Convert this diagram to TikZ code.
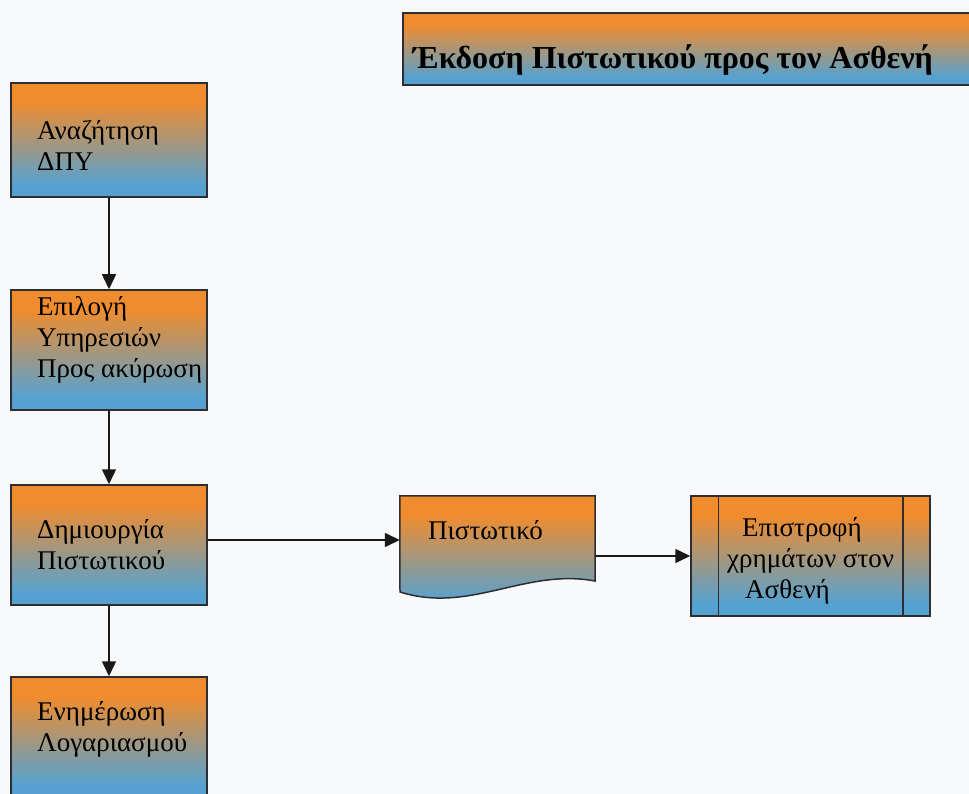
\documentclass[tikz,border=0pt]{standalone}
\usepackage{fontspec}
\setmainfont{Liberation Serif}
\usetikzlibrary{arrows.meta}

\definecolor{gbOrange}{RGB}{240,140,45}
\definecolor{gbBlue}{RGB}{85,162,210}
\definecolor{gbEdge}{RGB}{45,45,50}
\definecolor{gbPaper}{RGB}{248,249,251}

% orange on top, blue at the bottom, blended through the middle third
\pgfdeclareverticalshading{obgrad}{100bp}{%
  color(0bp)=(gbBlue); color(30bp)=(gbBlue);
  color(67bp)=(gbOrange); color(100bp)=(gbOrange)}

\tikzset{
  gbox/.style={draw=gbEdge, line width=1.5pt, shading=obgrad,
    minimum width=196pt, inner sep=0pt},
  label txt/.style={inner sep=0pt, align=left,
    font=\fontsize{27}{31}\selectfont},
  flow/.style={draw=black!90, line width=1.5pt,
    -{Triangle[length=15pt,width=14pt]}},
}

\begin{document}
\begin{tikzpicture}[x=1pt,y=-1pt]
\useasboundingbox[fill=gbPaper] (0,0) rectangle (969,794);

% heading bar
\node[gbox, minimum width=577pt, minimum height=72pt] (title) at (691.5,49) {};
\node[inner sep=0pt, anchor=west, font=\fontsize{32}{36}\selectfont\bfseries]
  (titletxt) at (413,60) {Έκδοση Πιστωτικού προς τον Ασθενή};

% main column of steps
\node[gbox, minimum height=114pt] (b1) at (109,140) {};
\node[label txt, anchor=west] (t1) at (37,145) {Αναζήτηση\\ΔΠΥ};

\node[gbox, minimum height=120pt] (b2) at (109,350) {};
\node[label txt, anchor=west] (t2) at (37,340) {Επιλογή\\Υπηρεσιών\\Προς ακύρωση};

\node[gbox, minimum height=120pt] (b3) at (109,545) {};
\node[label txt, anchor=west] (t3) at (37,545) {Δημιουργία\\Πιστωτικού};

\node[gbox, minimum height=120pt] (b4) at (109,737) {};
\node[label txt, anchor=west] (t4) at (37,729) {Ενημέρωση\\Λογαριασμού};

% document symbol with wavy lower edge
\node[minimum width=195pt, minimum height=88pt, inner sep=0pt] (doc) at (497.5,540) {};
\path[draw=gbEdge, line width=1.5pt, shading=obgrad]
  (doc.north west) -- (doc.north east) -- (595,581)
  .. controls (525,568) and (470,614) .. (400,592) -- cycle;
\node[label txt, anchor=west] (t5) at (428,530) {Πιστωτικό};

% predefined process box
\node[gbox, minimum width=239pt, minimum height=120pt] (proc) at (810.5,556) {};
\draw[gbEdge, line width=1.5pt]
  ([xshift=28pt]proc.north west) -- ([xshift=28pt]proc.south west)
  ([xshift=-28pt]proc.north east) -- ([xshift=-28pt]proc.south east);
\node[label txt, anchor=west] (t6) at (727,561)
  {\hspace*{15pt}Επιστροφή\\χρημάτων στον\\\hspace*{18pt}Ασθενή};

% connectors
\draw[flow] (b1.south) -- (b2.north);
\draw[flow] (b2.south) -- (b3.north);
\draw[flow] (b3.south) -- (b4.north);
\draw[flow] (b3.east |- doc.west) -- (doc.west);
\draw[flow] (doc.east |- proc.west) -- (proc.west);
\end{tikzpicture}
\end{document}
